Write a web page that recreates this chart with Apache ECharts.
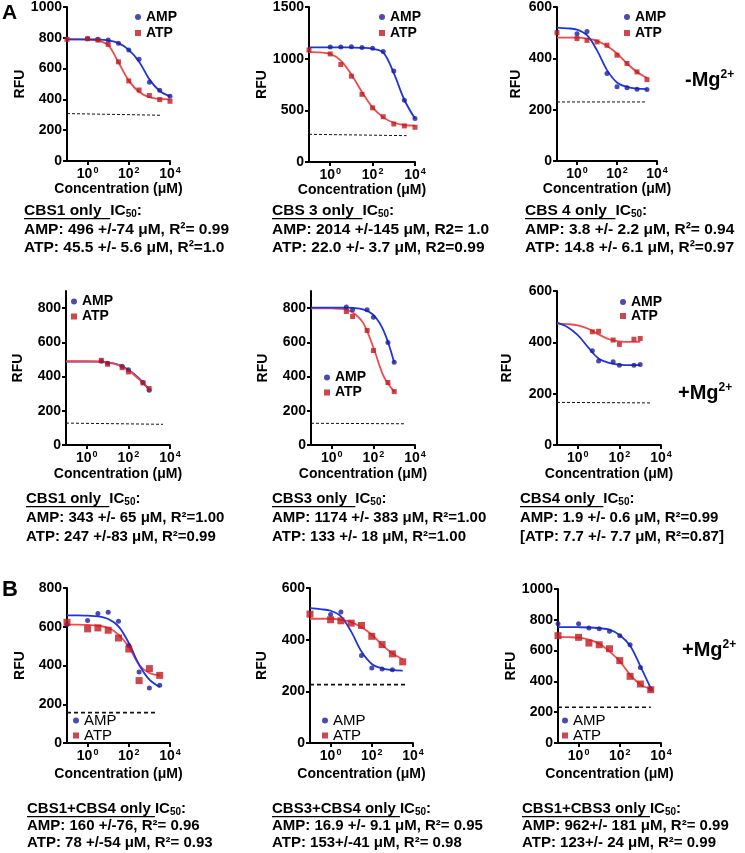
<!DOCTYPE html>
<html><head><meta charset="utf-8">
<script src="https://cdn.jsdelivr.net/npm/echarts@6/dist/echarts.min.js"></script>
<style>html,body{margin:0;padding:0;background:#fff}#c{width:745px;height:853px}</style>
</head><body><div id="c"></div><script>
// ---------- data ----------
const fitConc = [0.1, 0.316, 1, 3.16, 10, 31.6, 100, 316, 1000, 3162, 10000];
const concFull = [0.1, 1, 3.16, 10, 31.6, 100, 316, 1000, 3162, 10000];
const concNoZero = [1, 3.16, 10, 31.6, 100, 316, 1000, 3162, 10000];
const concRow2 = [5, 10, 50, 100, 500, 1000];
const concToK3 = [0.1, 1, 3.16, 10, 31.6, 100, 316, 1000, 3162];
const concCbs4Amp = [1, 3.16, 31.6, 100, 316, 1000, 3162];
const xTickValues = [1, 100, 10000];

// A: -Mg2+
const ampA1 = [794, 790, 785, 765, 720, 660, 512, 460, 420];          // concNoZero
const atpA1 = [790, 794, 785, 757, 644, 520, 461, 425, 399, 388];     // concFull
const ampFitA1 = [790, 790, 790, 789, 783, 765, 722, 645, 530, 455, 420];
const atpFitA1 = [790, 790, 788, 782, 752, 640, 522, 448, 415, 403, 400];
const baseConcA1 = [0.1, 4000]; const baseA1 = [308, 297];

const ampA2 = [1114, 1114, 1115, 1108, 1100, 1070, 880, 598, 422];    // concNoZero
const atpA2 = [1084, 1046, 943, 831, 655, 524, 438, 368, 349, 336];   // concFull
const ampFitA2 = [1110, 1110, 1110, 1110, 1108, 1105, 1095, 1060, 860, 600, 420];
const atpFitA2 = [1063, 1060, 1046, 982, 847, 678, 528, 432, 380, 358, 352];
const baseConcA2 = [0.1, 4000]; const baseA2 = [268, 255];

const ampA3 = [496, 505, 341, 289, 285, 280, 279];                     // concCbs4Amp
const atpA3 = [500, 477, 470, 464, 451, 412, 380, 347, 317];           // concToK3
const ampFitA3 = [520, 517, 512, 490, 431, 354, 306, 289, 282, 280];
const atpFitA3 = [481, 481, 481, 477, 468, 448, 419, 380, 347, 324];
const baseConcA3 = [0.1, 2500]; const baseA3 = [230, 230];

// A: +Mg2+
const ampB1 = [490, 478, 460, 440, 365, 320];                          // concRow2
const atpB1 = [495, 472, 452, 427, 363, 330];
const ampFitB1 = [488, 488, 488, 487, 483, 470, 440, 390, 322];
const atpFitB1 = [489, 489, 489, 488, 482, 468, 437, 385, 328];
const baseConcB1 = [0.1, 4600]; const baseB1 = [128, 121];

const ampB2 = [806, 790, 790, 747, 599, 484];
const atpB2 = [780, 751, 669, 552, 365, 312];
const ampFitB2 = [803, 803, 803, 803, 801, 793, 760, 665, 482];
const atpFitB2 = [799, 799, 798, 795, 775, 715, 570, 400, 312];
const baseConcB2 = [0.1, 3600]; const baseB2 = [127, 124];

const ampB3 = [367, 327, 324, 311, 311, 314];
const atpB3 = [441, 443, 409, 392, 412, 415];
const ampFitB3 = [477, 460, 428, 380, 337, 320, 313, 311, 311];
const atpFitB3 = [473, 471, 466, 453, 431, 412, 404, 402, 402];
const baseConcB3 = [0.1, 3600]; const baseB3 = [166, 164];

// B: combinations +Mg2+
const ampC1 = [611, 632, 668, 675, 628, 503, 367, 284, 298];           // concToK3
const atpC1 = [623, 589, 594, 582, 542, 485, 322, 384, 349];
const ampFitC1 = [659, 659, 657, 654, 640, 602, 516, 404, 327, 289];
const atpFitC1 = [611, 611, 609, 606, 594, 559, 496, 404, 361, 349];
const baseConcC1 = [0.1, 2200]; const baseC1 = [157, 157];

const ampC2 = [497, 507, 339, 290, 286, 284];                          // concCbs4Amp (first 6)
const atpC2 = [499, 477, 473, 464, 455, 413, 381, 345, 314];           // concToK3
const ampFitC2 = [522, 518, 512, 490, 431, 354, 306, 289, 282, 280];
const atpFitC2 = [481, 481, 481, 477, 468, 448, 419, 380, 347, 324];
const baseConcC2 = [0.1, 4800]; const baseC2 = [226, 226];

const ampC3 = [775, 775, 747, 742, 725, 697, 638, 491, 351];           // concToK3
const atpC3 = [697, 686, 649, 638, 612, 535, 433, 383, 346];
const ampFitC3 = [753, 753, 752, 750, 745, 736, 700, 632, 498, 357];
const atpFitC3 = [688, 687, 684, 671, 645, 595, 530, 444, 379, 351];
const baseConcC3 = [0.1, 3200]; const baseC3 = [232, 232];

const yMaxes = [1000, 1500, 600, 900, 900, 600, 800, 600, 1000];
const yTicks = [
  [0, 200, 400, 600, 800, 1000], [0, 500, 1000, 1500], [0, 200, 400, 600],
  [0, 200, 400, 600, 800], [0, 200, 400, 600, 800], [0, 200, 400, 600],
  [0, 200, 400, 600, 800], [0, 200, 400, 600], [0, 200, 400, 600, 800, 1000]
];

const captionHeads = ['CBS1 only  ', 'CBS 3 only  ', 'CBS 4 only  ',
  'CBS1 only  ', 'CBS3 only  ', 'CBS4 only  ',
  'CBS1+CBS4 only ', 'CBS3+CBS4 only ', 'CBS1+CBS3 only '];
const captionAmp = ['AMP: 496 +/-74 μM, R²= 0.99', 'AMP: 2014 +/-145 μM, R2= 1.0', 'AMP: 3.8 +/- 2.2 μM, R²= 0.94',
  'AMP: 343 +/- 65 μM, R²=1.00', 'AMP: 1174 +/- 383 μM, R²=1.00', 'AMP: 1.9 +/- 0.6 μM, R²=0.99',
  'AMP: 160 +/-76, R²= 0.96', 'AMP: 16.9 +/- 9.1 μM, R²= 0.95', 'AMP: 962+/- 181 μM, R²= 0.99'];
const captionAtp = ['ATP: 45.5 +/- 5.6 μM, R²=1.0', 'ATP: 22.0 +/- 3.7 μM, R2=0.99', 'ATP: 14.8 +/- 6.1 μM, R²=0.97',
  'ATP: 247 +/-83 μM, R²=0.99', 'ATP: 133 +/- 18 μM, R²=1.00', '[ATP: 7.7 +/- 7.7 μM, R²=0.87]',
  'ATP: 78 +/-54 μM, R²= 0.93', 'ATP: 153+/-41 μM, R²= 0.98', 'ATP: 123+/- 24 μM, R²= 0.99'];

// ---------- assembly ----------
const zip = (xs, ys) => ys.map((y, i) => [xs[i], y]);
const panels = [
  {amp: zip(concNoZero, ampA1), atp: zip(concFull, atpA1), ampFit: ampFitA1, atpFit: atpFitA1, base: zip(baseConcA1, baseA1)},
  {amp: zip(concNoZero, ampA2), atp: zip(concFull, atpA2), ampFit: ampFitA2, atpFit: atpFitA2, base: zip(baseConcA2, baseA2)},
  {amp: zip(concCbs4Amp, ampA3), atp: zip(concToK3, atpA3), ampFit: ampFitA3, atpFit: atpFitA3, base: zip(baseConcA3, baseA3)},
  {amp: zip(concRow2, ampB1), atp: zip(concRow2, atpB1), ampFit: ampFitB1, atpFit: atpFitB1, base: zip(baseConcB1, baseB1)},
  {amp: zip(concRow2, ampB2), atp: zip(concRow2, atpB2), ampFit: ampFitB2, atpFit: atpFitB2, base: zip(baseConcB2, baseB2)},
  {amp: zip(concRow2, ampB3), atp: zip(concRow2, atpB3), ampFit: ampFitB3, atpFit: atpFitB3, base: zip(baseConcB3, baseB3)},
  {amp: zip(concToK3, ampC1), atp: zip(concToK3, atpC1), ampFit: ampFitC1, atpFit: atpFitC1, base: zip(baseConcC1, baseC1)},
  {amp: zip(concCbs4Amp, ampC2), atp: zip(concToK3, atpC2), ampFit: ampFitC2, atpFit: atpFitC2, base: zip(baseConcC2, baseC2)},
  {amp: zip(concToK3, ampC3), atp: zip(concToK3, atpC3), ampFit: ampFitC3, atpFit: atpFitC3, base: zip(baseConcC3, baseC3)}
];

const FONT = '"Liberation Sans", Arial, Helvetica, sans-serif';
const layout = [
  {left: 67, top: 6, width: 103, height: 155, rfuGap: 29, xGap: 21},
  {left: 309, top: 6, width: 106, height: 156, rfuGap: 26, xGap: 21},
  {left: 557, top: 7, width: 100, height: 154, rfuGap: 34, xGap: 21},
  {left: 66, top: 291, width: 104, height: 154, rfuGap: 41, xGap: 22},
  {left: 311, top: 291, width: 104, height: 154, rfuGap: 41, xGap: 22},
  {left: 557, top: 291, width: 104, height: 154, rfuGap: 43, xGap: 22},
  {left: 67, top: 588, width: 103, height: 155, rfuGap: 40, xGap: 24},
  {left: 310, top: 588, width: 103, height: 155, rfuGap: 41, xGap: 24},
  {left: 558, top: 589, width: 103, height: 154, rfuGap: 39, xGap: 24}
];
const legendPos = [
  {left: 135, top: 9, gap: 16, bold: true, size: 14}, {left: 379, top: 9, gap: 16, bold: true, size: 14}, {left: 624, top: 9, gap: 16, bold: true, size: 14},
  {left: 71, top: 294, gap: 15, bold: true, size: 14}, {left: 324, top: 370, gap: 15, bold: true, size: 14}, {left: 620, top: 295, gap: 14, bold: true, size: 14},
  {left: 73, top: 713, gap: 13, bold: false, size: 15}, {left: 322, top: 713, gap: 13, bold: false, size: 15}, {left: 562, top: 713, gap: 13, bold: false, size: 15}
];
const captionPos = [
  {x: 24, y: 211, step: 18.5, size: 15.5}, {x: 272, y: 211, step: 18.5, size: 15.5}, {x: 525, y: 211, step: 18.5, size: 15.5},
  {x: 26, y: 499, step: 19, size: 15}, {x: 272, y: 499, step: 19, size: 15}, {x: 520, y: 499, step: 19, size: 15},
  {x: 27, y: 809, step: 17, size: 15}, {x: 272, y: 809, step: 17, size: 15}, {x: 522, y: 809, step: 17, size: 15}
];

const AMP_DOT = '#1d1d9c', ATP_SQ = '#c0191f', AMP_LINE = '#1f35e0', ATP_LINE = '#f24a4a';

const grid = [], xAxis = [], yAxis = [], series = [], legend = [];
panels.forEach((p, i) => {
  const L = layout[i];
  const row3 = i >= 6;
  grid.push({left: L.left, top: L.top, width: L.width, height: L.height, containLabel: false});
  xAxis.push({
    type: 'log', logBase: 10, min: 0.1, max: 10000, gridIndex: i,
    axisLine: {show: true, lineStyle: {color: '#000', width: 2}},
    axisTick: {show: true, length: 4, lineStyle: {color: '#000', width: 2}, customValues: xTickValues},
    axisLabel: {
      customValues: xTickValues, margin: 5, color: '#000',
      formatter: v => '{b|10}{e|' + Math.round(Math.log10(v)) + '}',
      rich: {
        b: {fontSize: 14, fontWeight: 'bold', fontFamily: FONT, lineHeight: 16, color: '#000'},
        e: {fontSize: 9, fontWeight: 'bold', fontFamily: FONT, lineHeight: 6, verticalAlign: 'top', color: '#000', padding: [0, 0, 0, 1]}
      }
    },
    splitLine: {show: false},
    name: 'Concentration (μM)', nameLocation: 'middle', nameGap: L.xGap,
    nameTextStyle: {fontSize: 14, fontWeight: 'bold', fontFamily: FONT, color: '#000'}
  });
  yAxis.push({
    type: 'value', min: 0, max: yMaxes[i], gridIndex: i,
    axisLine: {show: true, lineStyle: {color: '#000', width: 2}},
    axisTick: {show: true, length: 4, lineStyle: {color: '#000', width: 2}, customValues: yTicks[i]},
    axisLabel: {customValues: yTicks[i], margin: 5, fontSize: 14, fontWeight: 'bold', fontFamily: FONT, color: '#000',
      formatter: v => String(v)},
    splitLine: {show: false},
    name: 'RFU', nameLocation: 'middle', nameGap: L.rfuGap, nameRotate: 90,
    nameTextStyle: {fontSize: 14, fontWeight: 'bold', fontFamily: FONT, color: '#000'}
  });
  const nFitA = p.ampFit.length, nFitT = p.atpFit.length;
  series.push({
    type: 'line', name: 'ATP fit', xAxisIndex: i, yAxisIndex: i, data: zip(fitConc.slice(0, nFitT), p.atpFit),
    showSymbol: false, smooth: 0.35, lineStyle: {color: ATP_LINE, width: 1.8}, z: 2, silent: true
  });
  series.push({
    type: 'line', name: 'AMP fit', xAxisIndex: i, yAxisIndex: i, data: zip(fitConc.slice(0, nFitA), p.ampFit),
    showSymbol: false, smooth: 0.35, lineStyle: {color: AMP_LINE, width: 1.8}, z: i === 3 ? 1 : 3, silent: true
  });
  series.push({
    type: 'line', name: 'baseline', xAxisIndex: i, yAxisIndex: i, data: p.base,
    showSymbol: false, lineStyle: {color: '#111', width: row3 ? 1.6 : 1, type: row3 ? [4, 3] : [3, 2]}, z: 2, silent: true
  });
  series.push({
    type: 'scatter', name: 'AMP', xAxisIndex: i, yAxisIndex: i, data: p.amp,
    symbol: 'circle', symbolSize: 5, itemStyle: {color: AMP_DOT}, z: 4
  });
  series.push({
    type: 'scatter', name: 'ATP', xAxisIndex: i, yAxisIndex: i, data: p.atp,
    symbol: 'rect', symbolSize: row3 ? 7 : 5, itemStyle: {color: ATP_SQ}, z: 5
  });
  const lp = legendPos[i];
  legend.push({
    orient: 'vertical', left: lp.left, top: lp.top, padding: 0, itemGap: 0,
    itemWidth: 6, itemHeight: 6, selectedMode: false,
    data: [{name: 'AMP', icon: 'circle'}, {name: 'ATP', icon: 'rect'}],
    textStyle: {fontSize: lp.size, fontWeight: lp.bold ? 'bold' : 'normal', fontFamily: FONT, color: '#000', lineHeight: lp.gap}
  });
});

// captions
const measureCtx = document.createElement('canvas').getContext('2d');
function tw(s, size) { measureCtx.font = 'bold ' + size + 'px ' + FONT; return measureCtx.measureText(s).width; }
const graphic = [];
captionPos.forEach((c, i) => {
  const capFont = 'bold ' + c.size + 'px ' + FONT;
  const capRich = {
    n: {fontSize: c.size, fontWeight: 'bold', fontFamily: FONT, lineHeight: 17, fill: '#000', color: '#000'},
    s: {fontSize: 10, fontWeight: 'bold', fontFamily: FONT, lineHeight: 7, verticalAlign: 'bottom', fill: '#000', color: '#000'}
  };
  graphic.push({type: 'text', x: c.x, y: c.y, style: {text: '{n|' + captionHeads[i] + 'IC}{s|50}{n|:}', rich: capRich, verticalAlign: 'middle', fill: '#000'}});
  graphic.push({type: 'rect', shape: {x: c.x, y: c.y + 7, width: tw(captionHeads[i], c.size), height: 1.3}, style: {fill: '#000'}});
  graphic.push({type: 'text', x: c.x, y: c.y + c.step, style: {text: captionAmp[i], font: capFont, verticalAlign: 'middle', fill: '#000'}});
  graphic.push({type: 'text', x: c.x, y: c.y + 2 * c.step, style: {text: captionAtp[i], font: capFont, verticalAlign: 'middle', fill: '#000'}});
});
const mgRich = {
  b: {fontSize: 20, fontWeight: 'bold', fontFamily: FONT, lineHeight: 22, fill: '#000'},
  p: {fontSize: 12, fontWeight: 'bold', fontFamily: FONT, lineHeight: 6, verticalAlign: 'top', fill: '#000'}
};
graphic.push({type: 'text', x: 685, y: 80, style: {text: '{b|-Mg}{p|2+}', rich: mgRich, verticalAlign: 'middle'}});
graphic.push({type: 'text', x: 678, y: 393, style: {text: '{b|+Mg}{p|2+}', rich: mgRich, verticalAlign: 'middle'}});
graphic.push({type: 'text', x: 682, y: 650, style: {text: '{b|+Mg}{p|2+}', rich: mgRich, verticalAlign: 'middle'}});
graphic.push({type: 'text', x: 2, y: 13, style: {text: 'A', font: 'bold 21px ' + FONT, verticalAlign: 'middle', fill: '#000'}});
graphic.push({type: 'text', x: 2, y: 590, style: {text: 'B', font: 'bold 22px ' + FONT, verticalAlign: 'middle', fill: '#000'}});

const chart = echarts.init(document.getElementById('c'), null, {renderer: 'canvas'});
chart.setOption({
  animation: false, backgroundColor: '#fff',
  grid, xAxis, yAxis, series, legend, graphic
});
</script></body></html>
